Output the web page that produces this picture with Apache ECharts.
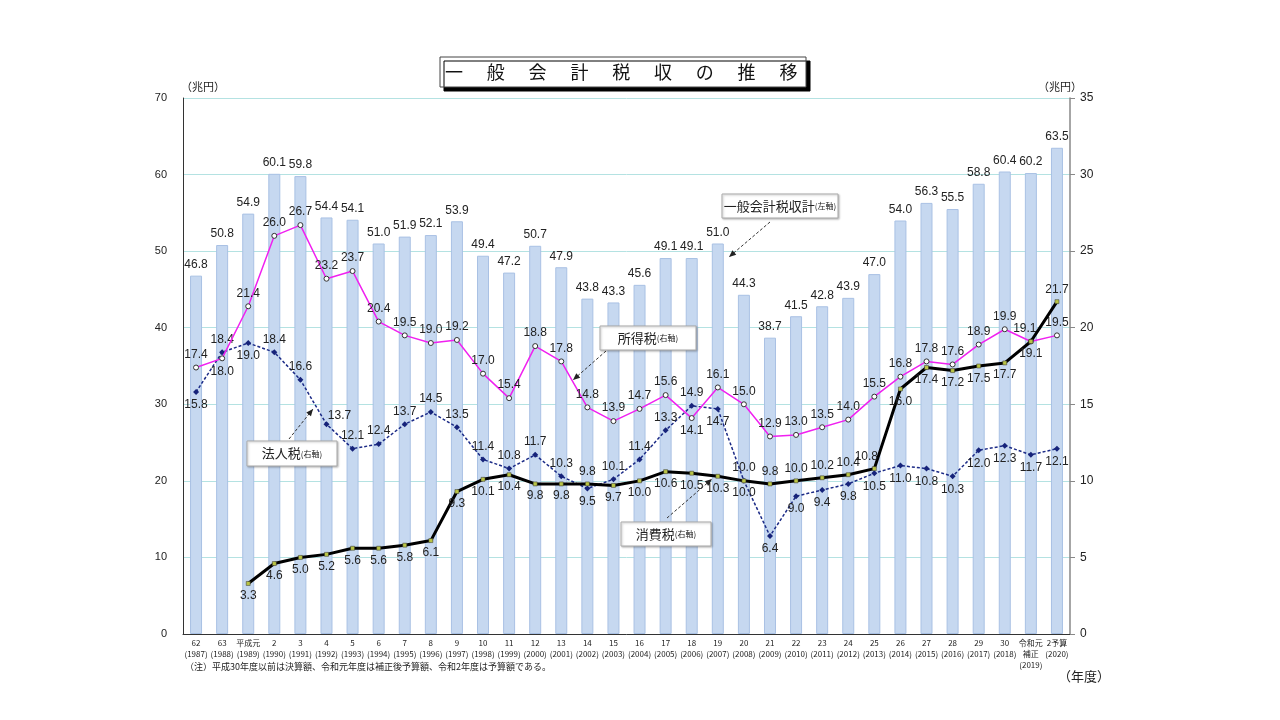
<!DOCTYPE html>
<html>
<head>
<meta charset="utf-8">
<script src="https://cdn.jsdelivr.net/npm/echarts@6/dist/echarts.min.js"></script>
<style>html,body{margin:0;padding:0;background:#fff;}#c{width:1280px;height:720px;}</style>
</head>
<body>
<div id="c"></div>
<script>
// ---- data ----
const categories = ['62\n(1987)','63\n(1988)','平成元\n(1989)','2\n(1990)','3\n(1991)','4\n(1992)','5\n(1993)','6\n(1994)','7\n(1995)','8\n(1996)','9\n(1997)','10\n(1998)','11\n(1999)','12\n(2000)','13\n(2001)','14\n(2002)','15\n(2003)','16\n(2004)','17\n(2005)','18\n(2006)','19\n(2007)','20\n(2008)','21\n(2009)','22\n(2010)','23\n(2011)','24\n(2012)','25\n(2013)','26\n(2014)','27\n(2015)','28\n(2016)','29\n(2017)','30\n(2018)','令和元\n補正\n(2019)','2予算\n(2020)'];
const totalTax = [46.8,50.8,54.9,60.1,59.8,54.4,54.1,51.0,51.9,52.1,53.9,49.4,47.2,50.7,47.9,43.8,43.3,45.6,49.1,49.1,51.0,44.3,38.7,41.5,42.8,43.9,47.0,54.0,56.3,55.5,58.8,60.4,60.2,63.5];
const incomeTax = [17.4,18.0,21.4,26.0,26.7,23.2,23.7,20.4,19.5,19.0,19.2,17.0,15.4,18.8,17.8,14.8,13.9,14.7,15.6,14.1,16.1,15.0,12.9,13.0,13.5,14.0,15.5,16.8,17.8,17.6,18.9,19.9,19.1,19.5];
const corporateTax = [15.8,18.4,19.0,18.4,16.6,13.7,12.1,12.4,13.7,14.5,13.5,11.4,10.8,11.7,10.3,9.5,10.1,11.4,13.3,14.9,14.7,10.0,6.4,9.0,9.4,9.8,10.5,11.0,10.8,10.3,12.0,12.3,11.7,12.1];
const consumptionTax = [null,null,3.3,4.6,5.0,5.2,5.6,5.6,5.8,6.1,9.3,10.1,10.4,9.8,9.8,9.8,9.7,10.0,10.6,10.5,10.3,10.0,9.8,10.0,10.2,10.4,10.8,16.0,17.4,17.2,17.5,17.7,19.1,21.7];
const leftTicks = [0,10,20,30,40,50,60,70];
const rightTicks = [0,5,10,15,20,25,30,35];

// label placement (style, kept apart from the values)
const B = 'bottom', T = 'top';
const incomeLabelPos = categories.map((c,i) => (i===1 || i===19) ? B : T);
const corpLabelPos = categories.map((c,i) => {
  if (i===0 || i===2 || i===15 || i===20) return B;
  if (i>=22) return B;
  return T;
});
const consLabelPos = categories.map((c,i) => {
  if (i===15) return T;
  if (i>=22 && i<=26) return T;
  if (i===33) return T;
  return B;
});
const labelOffsets = { corp: { 5: [13, 4] }, cons: { 26: [-8, 0] }, income: { 32: [-6, 0] } };

const FONT = "'Liberation Sans','Noto Sans CJK JP',sans-serif";
const JFONT = "'Noto Sans CJK JP','Liberation Sans',sans-serif";

function withPos(values, pos, offs) {
  return values.map((v,i) => {
    const lab = { position: pos[i] };
    if (offs && offs[i]) lab.offset = offs[i];
    return { value: v, label: lab };
  });
}

const chart = echarts.init(document.getElementById('c'));

// title characters
const titleChars = ['一','般','会','計','税','収','の','推','移'];
const graphics = [];
graphics.push({
  type: 'rect', shape: { x: 440, y: 57, width: 366, height: 30 },
  style: { fill: '#fff', stroke: '#444', lineWidth: 1, shadowColor: '#000', shadowOffsetX: 4, shadowOffsetY: 4, shadowBlur: 0 },
  z: 10
});
titleChars.forEach((ch, i) => {
  graphics.push({
    type: 'text', x: 454 + i * 41.8, y: 72, z: 11,
    style: { text: ch, font: "18px " + JFONT, fill: '#111', align: 'center', verticalAlign: 'middle' }
  });
});

function annot(x, y, w, h, main) {
  graphics.push({
    type: 'rect', shape: { x: x, y: y, width: w, height: h }, z: 20,
    style: { fill: '#fff', stroke: '#aaa', lineWidth: 1, shadowColor: 'rgba(0,0,0,0.25)', shadowOffsetX: 1, shadowOffsetY: 1, shadowBlur: 2 }
  });
  graphics.push({
    type: 'text', x: x + w / 2, y: y + h / 2, z: 21,
    style: {
      text: '{a|' + main + '}{b|' + (main === '一般会計税収計' ? '(左軸)' : '(右軸)') + '}',
      align: 'center', verticalAlign: 'middle',
      rich: {
        a: { font: "13px " + JFONT, fill: '#222' },
        b: { font: "8px " + JFONT, fill: '#222' }
      }
    }
  });
}
function arrow(x1, y1, x2, y2) {
  graphics.push({
    type: 'line', shape: { x1: x1, y1: y1, x2: x2, y2: y2 }, z: 19,
    style: { stroke: '#333', lineWidth: 1, lineDash: [3, 2] }
  });
  const a = Math.atan2(y2 - y1, x2 - x1), L = 7, W = 3;
  const bx = x2 - L * Math.cos(a), by = y2 - L * Math.sin(a);
  graphics.push({
    type: 'polygon', z: 19,
    shape: { points: [[x2, y2], [bx + W * Math.sin(a), by - W * Math.cos(a)], [bx - W * Math.sin(a), by + W * Math.cos(a)]] },
    style: { fill: '#222' }
  });
}
annot(722, 194, 116, 24, '一般会計税収計');
arrow(770, 222, 729, 257);
annot(600, 326, 96, 24, '所得税');
arrow(606, 351, 573, 380);
annot(247, 441, 90, 25, '法人税');
arrow(289, 439, 313, 409);
annot(621, 522, 90, 24, '消費税');
arrow(667, 518, 712, 479);

// units and notes
graphics.push({ type: 'text', x: 181, y: 87, style: { text: '（兆円）', font: "11px " + JFONT, fill: '#222', verticalAlign: 'middle' } });
graphics.push({ type: 'text', x: 1038, y: 87, style: { text: '（兆円）', font: "11px " + JFONT, fill: '#222', verticalAlign: 'middle' } });
graphics.push({ type: 'text', x: 185, y: 667, style: { text: '（注）平成30年度以前は決算額、令和元年度は補正後予算額、令和2年度は予算額である。', font: "9px " + JFONT, fill: '#222', verticalAlign: 'middle' } });
graphics.push({ type: 'text', x: 1058, y: 676, style: { text: '（年度）', font: "13px " + JFONT, fill: '#222', verticalAlign: 'middle' } });

const labelBase = { show: true, fontSize: 12, color: '#222', fontFamily: FONT, distance: 4 };

chart.setOption({
  animation: false,
  backgroundColor: '#fff',
  textStyle: { fontFamily: FONT },
  grid: { left: 183, right: 210, top: 98, bottom: 86, containLabel: false },
  xAxis: {
    type: 'category', data: categories, boundaryGap: true,
    axisLine: { show: true, lineStyle: { color: '#333', width: 1 } },
    axisTick: { show: false },
    axisLabel: { interval: 0, fontSize: 8, lineHeight: 11, color: '#222', margin: 3, fontFamily: JFONT }
  },
  yAxis: [
    {
      type: 'value', min: 0, max: 70, interval: 10, position: 'left',
      axisLine: { show: true, lineStyle: { color: '#333', width: 1 } },
      axisTick: { show: false },
      axisLabel: { fontSize: 11, color: '#222', margin: 16, formatter: v => leftTicks.includes(v) ? String(v) : '' },
      splitLine: { show: true, lineStyle: { color: '#b4e2e2', width: 1 } }
    },
    {
      type: 'value', min: 0, max: 35, interval: 5, position: 'right',
      axisLine: { show: true, lineStyle: { color: '#888', width: 1.5 } },
      axisTick: { show: true, inside: false, length: 5, lineStyle: { color: '#888' } },
      axisLabel: { fontSize: 12, color: '#222', margin: 10, formatter: v => rightTicks.includes(v) ? String(v) : '' },
      splitLine: { show: false }
    }
  ],
  series: [
    {
      name: '一般会計税収計', type: 'bar', yAxisIndex: 0, data: totalTax, barWidth: 12,
      itemStyle: { color: '#c6d8f0', borderColor: '#a9c1e4', borderWidth: 1 },
      label: Object.assign({}, labelBase, { position: 'top', distance: 5, formatter: p => p.value.toFixed(1) }),
      z: 1
    },
    {
      name: '所得税', type: 'line', yAxisIndex: 1, data: withPos(incomeTax, incomeLabelPos, labelOffsets.income),
      lineStyle: { color: '#f020f0', width: 1.5 },
      symbol: 'circle', symbolSize: 5,
      itemStyle: { color: '#fff', borderColor: '#333', borderWidth: 1 },
      label: Object.assign({}, labelBase, { formatter: p => p.value.toFixed(1) }),
      z: 4
    },
    {
      name: '法人税', type: 'line', yAxisIndex: 1, data: withPos(corporateTax, corpLabelPos, labelOffsets.corp),
      lineStyle: { color: '#1b2a86', width: 1.5, type: [3, 2] },
      symbol: 'diamond', symbolSize: 6,
      itemStyle: { color: '#16237a', borderWidth: 0 },
      label: Object.assign({}, labelBase, { formatter: p => p.value.toFixed(1) }),
      z: 3
    },
    {
      name: '消費税', type: 'line', yAxisIndex: 1, data: withPos(consumptionTax, consLabelPos, labelOffsets.cons),
      lineStyle: { color: '#000', width: 3 },
      symbol: 'rect', symbolSize: 4, showSymbol: true,
      itemStyle: { color: '#b9c445', borderColor: '#333', borderWidth: 0.5 },
      label: Object.assign({}, labelBase, { formatter: p => p.value == null ? '' : p.value.toFixed(1) }),
      z: 5
    }
  ],
  graphic: graphics
});
</script>
</body>
</html>
